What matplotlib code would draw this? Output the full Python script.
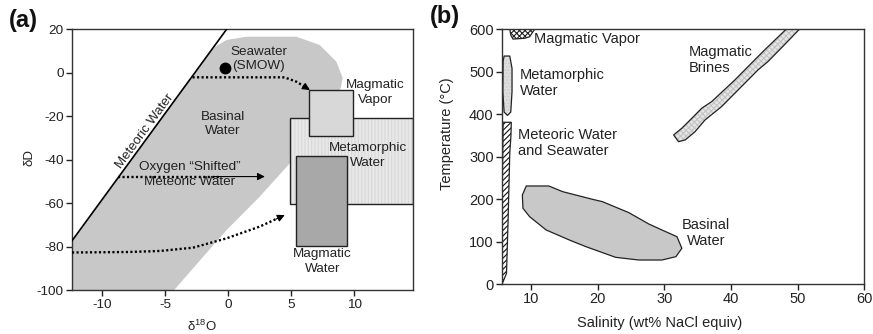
import matplotlib
matplotlib.use("Agg")
import matplotlib.pyplot as plt
from matplotlib.patches import Polygon, Rectangle

plt.rcParams['font.family'] = ['Liberation Sans', 'DejaVu Sans']
plt.rcParams['axes.unicode_minus'] = False
plt.rcParams['mathtext.default'] = 'regular'
plt.rcParams['hatch.linewidth'] = 0.8

# ---------------- Panel (a) data ----------------
a_xlim = (-12.4, 14.7)
a_ylim = (-100, 20)
a_xticks = [-10, -5, 0, 5, 10]
a_yticks = [20, 0, -20, -40, -60, -80, -100]

meteoric_line_x = [-12.4, -0.13]
meteoric_line_y = [-77.2, 20]

basinal_a_x = [-12.4, -12.4, -2.49, -1.06, -0.13, 1.46, 5.42, 7.26, 8.59, 9.09, 8.93, 7.0,
               4.89, 2.51, -0.13, -1.98, -4.31]
basinal_a_y = [-100, -77.2, 1.3, 11.9, 15.1, 16.6, 16.6, 12.8, 5.1, -2.4, -7.0, -25,
               -41.6, -56.9, -72.3, -84.5, -100]

# boxes: (x0, x1, y0, y1)
metamorphic_box = (4.9, 14.7, -60.3, -20.9)
magmatic_vapor_box = (6.42, 9.91, -28.9, -7.9)
magmatic_water_box = (5.42, 9.43, -79.5, -38.2)

smow_x, smow_y = -0.24, 2.07

arrow1_x = [-2.83, 4.36, 4.62, 5.42, 6.07, 6.48]
arrow1_y = [-2.07, -2.07, -2.4, -4.1, -6.4, -7.9]
arrow2_x = [-8.72, 2.91]
arrow2_y = [-47.7, -47.7]
arrow3_x = [-12.4, -8.0, -5.4, -2.8, -0.13, 2.5, 4.49]
arrow3_y = [-82.6, -82.4, -81.9, -80.4, -76.1, -70.7, -65.4]

# ---------------- Panel (b) data ----------------
b_xlim = (5.6, 60)
b_ylim = (0, 600)
b_xticks = [10, 20, 30, 40, 50, 60]
b_yticks = [0, 100, 200, 300, 400, 500, 600]

mvapor_b_x = [6.77, 10.5, 9.75, 9.0, 7.26, 6.92]
mvapor_b_y = [600, 600, 582.5, 578.8, 577, 586.5]

metam_b_x = [5.92, 6.77, 7.11, 7.11, 6.92, 6.43, 5.92, 5.73, 5.77]
metam_b_y = [537, 537, 508, 453, 405, 397, 405, 453, 524]

meteor_b_x = [5.77, 7.0, 6.95, 6.77, 6.52, 6.28, 5.62, 5.62, 5.77]
meteor_b_y = [381, 381, 350, 308, 151, 25, 0, 200, 381]

brines_x = [48.26, 45.04, 43.79, 40.57, 37.08, 35.59, 34.35, 32.6, 31.37, 32.11,
            33.11, 34.6, 36.09, 38.57, 42.06, 44.04, 45.53, 47.51, 50.26]
brines_y = [600, 551.4, 531.8, 480.7, 429.5, 414, 394.2, 366.9, 351.1, 335.3,
            339.3, 358.9, 386.4, 417.8, 472.9, 504.2, 523.8, 555.4, 600]

basinal_b_x = [9.25, 12.63, 14.72, 19.19, 20.68, 24.66, 27.64, 29.63, 31.87, 32.61,
               31.72, 29.63, 26.15, 22.67, 18.2, 15.71, 12.24, 9.75, 8.75, 8.66]
basinal_b_y = [230.9, 230.9, 217.5, 199.5, 194, 168, 141.4, 127.2, 111.5, 84.1,
               64.4, 56.5, 56.5, 62.8, 88, 103.7, 127.2, 158.6, 178.3, 209.7]

TXT = '#222222'
fig = plt.figure(figsize=(8.73, 3.34), dpi=100)

# ================= Panel (a) =================
ax = fig.add_axes([0.0825, 0.1308, 0.391, 0.7814])
ax.set_xlim(*a_xlim)
ax.set_ylim(*a_ylim)
ax.add_patch(Polygon(list(zip(basinal_a_x, basinal_a_y)), closed=True,
                     facecolor='#c8c8c8', edgecolor='none', zorder=1))
ax.plot(meteoric_line_x, meteoric_line_y, color='black', lw=1.2, zorder=3)

def box(axh, b, fc, hatch=None, hc=None, z=2):
    x0, x1, y0, y1 = b
    if hatch:
        axh.add_patch(Rectangle((x0, y0), x1 - x0, y1 - y0, facecolor=fc, edgecolor=hc,
                                hatch=hatch, lw=0, zorder=z))
        axh.add_patch(Rectangle((x0, y0), x1 - x0, y1 - y0, facecolor='none',
                                edgecolor='#222222', lw=1.0, zorder=z))
    else:
        axh.add_patch(Rectangle((x0, y0), x1 - x0, y1 - y0, facecolor=fc,
                                edgecolor='#222222', lw=1.0, zorder=z))

box(ax, metamorphic_box, '#e8e8e8', hatch='|||||', hc='#d9d9d9', z=2)
box(ax, magmatic_vapor_box, '#d8d8d8', z=3)
box(ax, magmatic_water_box, '#a8a8a8', z=3)

ax.plot([smow_x], [smow_y], 'o', color='black', ms=7.5, zorder=5)

dots = dict(color='black', lw=1.7, linestyle=(0, (0.9, 1.0)), zorder=4)
for xs, ys in [(arrow1_x, arrow1_y), (arrow2_x, arrow2_y), (arrow3_x, arrow3_y)]:
    ax.plot(xs[:-1] + [xs[-1] - (xs[-1] - xs[-2]) * 0.3],
            ys[:-1] + [ys[-1] - (ys[-1] - ys[-2]) * 0.3], **dots)
    ax.annotate('', xy=(xs[-1], ys[-1]),
                xytext=(xs[-1] - (xs[-1] - xs[-2]) * 0.35, ys[-1] - (ys[-1] - ys[-2]) * 0.35),
                arrowprops=dict(arrowstyle='-|>', color='black', lw=0.8,
                                mutation_scale=11, shrinkA=0, shrinkB=0), zorder=5)

fs_a = 9.7
ax.text(2.4, 6.3, 'Seawater\n(SMOW)', ha='center', va='center', fontsize=fs_a, color=TXT,
        linespacing=1.25, zorder=6)
ax.text(-0.4, -23.5, 'Basinal\nWater', ha='center', va='center', fontsize=fs_a, color=TXT,
        linespacing=1.25, zorder=6)
ax.text(-3.04, -46.8, 'Oxygen \u201cShifted\u201d\nMeteoric Water', ha='center', va='center',
        fontsize=fs_a, color=TXT, linespacing=1.25, zorder=6)
ax.text(11.7, -9.05, 'Magmatic\nVapor', ha='center', va='center', fontsize=fs_a, color=TXT,
        linespacing=1.25, zorder=6)
ax.text(11.08, -38.0, 'Metamorphic\nWater', ha='center', va='center', fontsize=fs_a,
        color=TXT, linespacing=1.25, zorder=6)
ax.text(7.47, -86.8, 'Magmatic\nWater', ha='center', va='center', fontsize=fs_a, color=TXT,
        linespacing=1.25, zorder=6)
ax.text(-6.6, -26.8, 'Meteoric Water', ha='center', va='center', fontsize=fs_a - 0.2,
        color=TXT, rotation=53.8, rotation_mode='anchor', zorder=6)

ax.set_xticks(a_xticks)
ax.set_xticklabels([str(v) for v in a_xticks])
ax.set_yticks(a_yticks)
ax.set_yticklabels([str(v) for v in a_yticks])
ax.tick_params(direction='out', length=4, width=1, labelsize=9.7, colors='#222222',
               labelcolor=TXT, pad=2)
for s in ax.spines.values():
    s.set_color('#333333')
    s.set_linewidth(1.0)
ax.text(-0.125, 0.508, '\u03b4D', transform=ax.transAxes, rotation=90, ha='center',
        va='center', fontsize=9.5, color=TXT)
ax.text(0.38, -0.138, '\u03b4$^{18}$O', transform=ax.transAxes, ha='center', va='center',
        fontsize=9.5, color=TXT)
fig.text(0.027, 0.94, '(a)', fontsize=17, fontweight='bold', ha='center', va='center',
         color='#111111')

# ================= Panel (b) =================
bx = fig.add_axes([0.575, 0.1497, 0.415, 0.7626])
bx.set_xlim(*b_xlim)
bx.set_ylim(*b_ylim)

def poly(axh, xs, ys, fc, hatch=None, hc=None, z=2):
    pts = list(zip(xs, ys))
    if hatch:
        axh.add_patch(Polygon(pts, closed=True, facecolor=fc, edgecolor=hc, hatch=hatch,
                              lw=0, zorder=z))
        axh.add_patch(Polygon(pts, closed=True, facecolor='none', edgecolor='#222222',
                              lw=0.9, zorder=z))
    else:
        axh.add_patch(Polygon(pts, closed=True, facecolor=fc, edgecolor='#222222',
                              lw=0.9, zorder=z))

poly(bx, mvapor_b_x, mvapor_b_y, 'white', hatch='xxxxxx', hc='#222222')
poly(bx, metam_b_x, metam_b_y, '#dedede', hatch='.....', hc='#cccccc')
poly(bx, meteor_b_x, meteor_b_y, 'white', hatch='//////', hc='#111111')
poly(bx, brines_x, brines_y, '#e6e6e6', hatch='xxxxxx', hc='#c4c4c4')
poly(bx, basinal_b_x, basinal_b_y, '#c8c8c8')

fs_b = 10.5
bx.text(10.35, 576, 'Magmatic Vapor', ha='left', va='center', fontsize=fs_b, color=TXT)
bx.text(8.26, 474, 'Metamorphic\nWater', ha='left', va='center', fontsize=fs_b, color=TXT,
        linespacing=1.2)
bx.text(8.01, 332.6, 'Meteoric Water\nand Seawater', ha='left', va='center', fontsize=fs_b,
        color=TXT, linespacing=1.2)
bx.text(33.6, 528, 'Magmatic\nBrines', ha='left', va='center', fontsize=fs_b, color=TXT,
        linespacing=1.2)
bx.text(36.24, 120.5, 'Basinal\nWater', ha='center', va='center', fontsize=fs_b, color=TXT,
        linespacing=1.2)

bx.set_xticks(b_xticks)
bx.set_xticklabels([str(v) for v in b_xticks])
bx.set_yticks(b_yticks)
bx.set_yticklabels([str(v) for v in b_yticks])
bx.tick_params(direction='out', length=4, width=1, labelsize=10.5, colors='#222222',
               labelcolor=TXT, pad=2)
for s in bx.spines.values():
    s.set_color('#333333')
    s.set_linewidth(1.0)
bx.text(-0.153, 0.589, 'Temperature (\u00b0C)', transform=bx.transAxes, rotation=90,
        ha='center', va='center', fontsize=10.5, color=TXT)
bx.text(0.436, -0.154, 'Salinity (wt% NaCl equiv)', transform=bx.transAxes, ha='center',
        va='center', fontsize=10.5, color=TXT)
fig.text(0.51, 0.95, '(b)', fontsize=17, fontweight='bold', ha='center', va='center',
         color='#111111')

fig.savefig('out.png', dpi=100)
